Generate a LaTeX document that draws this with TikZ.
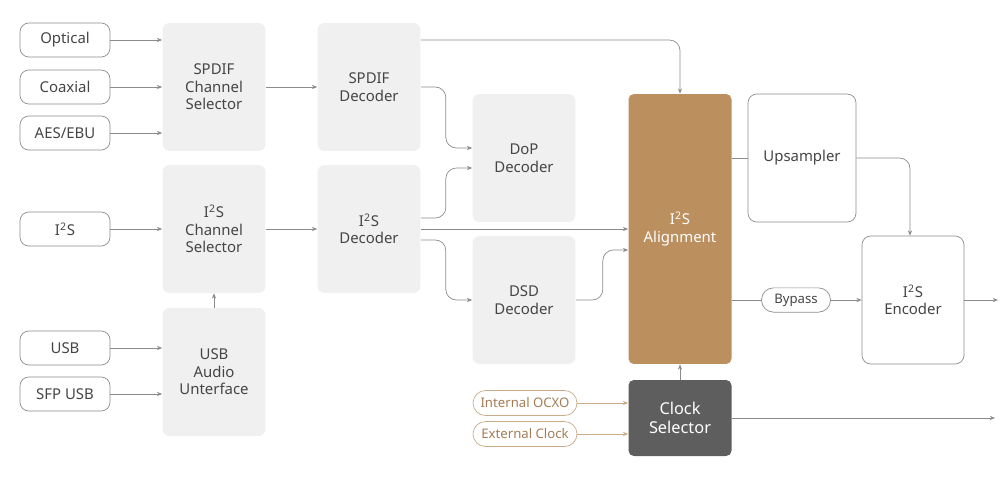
\documentclass[tikz,border=0pt]{standalone}
\usepackage{fontspec}
\setmainfont{Noto Sans}
\usetikzlibrary{arrows.meta}
\definecolor{BoxGray}{HTML}{F0F0F0}
\definecolor{LineGray}{HTML}{8C8C8C}
\definecolor{TextGray}{HTML}{454545}
\definecolor{Bronze}{HTML}{BC8F5F}
\definecolor{BronzeLine}{HTML}{C9AB88}
\definecolor{BronzeText}{HTML}{A27D55}
\definecolor{DarkBox}{HTML}{5E5E5E}
\newcommand{\Isq}{I\textsuperscript{2}S}
\begin{document}
\begin{tikzpicture}
[
x=0.02cm, y=-0.02cm,
every node/.style={font=\fontsize{8.5}{10}\selectfont, text=TextGray, align=center},
Input/.style={rectangle, rounded corners=5pt, draw=LineGray, fill=white, thin, minimum width=1.8cm, minimum height=0.68cm},
Block/.style={rectangle, rounded corners=4pt, fill=BoxGray, minimum width=2.06cm, minimum height=2.56cm},
Align/.style={rectangle, rounded corners=3pt, fill=Bronze, text=white, minimum width=2.06cm, minimum height=5.4cm},
Clock/.style={rectangle, rounded corners=3pt, fill=DarkBox, text=white, minimum width=2.06cm, minimum height=1.52cm, font=\fontsize{9.3}{10.5}\selectfont},
Outline/.style={rectangle, rounded corners=5pt, draw=LineGray, fill=white, thin, minimum height=2.56cm},
Pill/.style={rectangle, draw=LineGray, thin, minimum width=1.38cm, minimum height=0.48cm, rounded corners=0.24cm, font=\fontsize{7.5}{9}\selectfont},
ClockPill/.style={rectangle, draw=BronzeLine, text=BronzeText, thin, minimum width=2.08cm, minimum height=0.5cm, rounded corners=0.25cm, font=\fontsize{7.5}{9}\selectfont},
Link/.style={draw=LineGray, thin, -{Stealth[length=3pt,width=2.4pt]}},
Plain/.style={draw=LineGray, thin},
Bend/.style={Link, rounded corners=6pt},
]
\useasboundingbox (0,0) rectangle (1000,481);

% inputs
\node[Input] (optical) at (65, 40) {Optical};
\node[Input] (coax)    at (65, 87) {Coaxial};
\node[Input] (aes)     at (65,133) {AES/EBU};
\node[Input] (i2sin)   at (65,229) {\Isq};
\node[Input] (usb)     at (65,348) {USB};
\node[Input] (sfpusb)  at (65,394) {SFP USB};

% selectors
\node[Block] (spdifcs) at (214, 87) {SPDIF\\Channel\\Selector};
\node[Block] (i2scs)   at (214,229) {\Isq\\Channel\\Selector};
\node[Block] (usbai)   at (214,372) {USB\\Audio\\Unterface};

% decoders
\node[Block] (spdifdec) at (369, 87) {SPDIF\\Decoder};
\node[Block] (i2sdec)   at (369,229) {\Isq\\Decoder};
\node[Block] (dop)      at (524,158) {DoP\\Decoder};
\node[Block] (dsd)      at (524,300) {DSD\\Decoder};

% alignment and clock
\node[Align] (align) at (680,229) {\Isq\\Alignment};
\node[Clock] (clock) at (680,418) {Clock\\Selector};
\node[ClockPill] (ocxo) at (525,403) {Internal OCXO};
\node[ClockPill] (extclk) at (525,434) {External Clock};

% output side
\node[Outline, minimum width=2.16cm] (upsamp) at (802,158) {Upsampler};
\node[Outline, minimum width=2.04cm] (enc) at (913,300) {\Isq\\Encoder};
\node[Pill] (bypass) at (796,300) {Bypass};
\coordinate (encout) at (998,300);
\coordinate (clkout) at (995,418);

% connectors
\draw[Link] (optical.east) -- (spdifcs.west |- optical.east);
\draw[Link] (coax.east) -- (spdifcs.west |- coax.east);
\draw[Link] (aes.east) -- (spdifcs.west |- aes.east);
\draw[Link] (i2sin.east) -- (i2scs.west);
\draw[Link] (usb.east) -- (usbai.west |- usb.east);
\draw[Link] (sfpusb.east) -- (usbai.west |- sfpusb.east);
\draw[Link] (usbai.north) -- (i2scs.south);

\draw[Link] (spdifcs.east) -- (spdifdec.west);
\draw[Link] (i2scs.east) -- (i2sdec.west);

\draw[Bend] ([yshift=0.94cm]spdifdec.east) -| (align.north);
\draw[Bend] (spdifdec.east) -- ++(25,0) |- ([yshift=0.2cm]dop.west);
\draw[Bend] ([yshift=0.22cm]i2sdec.east) -- ++(25,0) |- ([yshift=-0.2cm]dop.west);
\draw[Link] (i2sdec.east) -- (align.west);
\draw[Bend] ([yshift=-0.22cm]i2sdec.east) -- ++(25,0) |- (dsd.west);
\draw[Bend] (dsd.east) -- ++(27,0) |- ([yshift=-0.42cm]align.west);

\draw[Plain] (align.east |- upsamp.west) -- (upsamp.west);
\draw[Bend] (upsamp.east) -| ([xshift=-0.06cm]enc.north);
\draw[Plain] (align.east |- bypass.west) -- (bypass.west);
\draw[Link] (bypass.east) -- (enc.west);
\draw[Link] (enc.east) -- (encout);

\draw[Link] (clock.north) -- (align.south);
\draw[Link, draw=BronzeLine] (ocxo.east) -- (clock.west |- ocxo.east);
\draw[Link, draw=BronzeLine] (extclk.east) -- (clock.west |- extclk.east);
\draw[Link] (clock.east) -- (clkout);

\end{tikzpicture}
\end{document}
